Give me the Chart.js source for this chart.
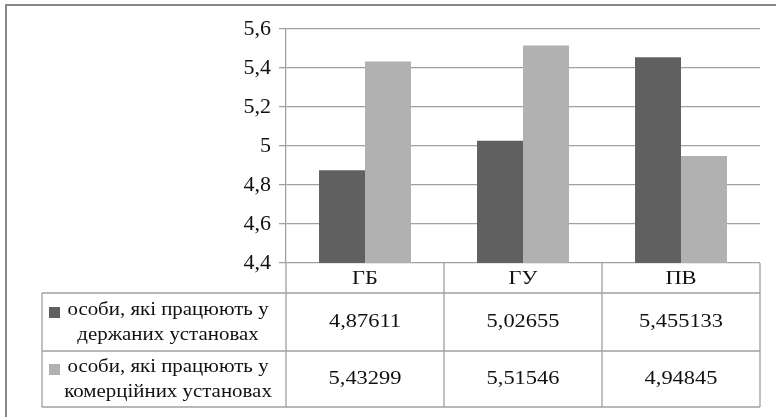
<!DOCTYPE html>
<html>
<head>
<meta charset="utf-8">
<script src="https://cdn.jsdelivr.net/npm/chart.js@4/dist/chart.umd.min.js"></script>
<style>
  html, body { margin: 0; padding: 0; background: #fff; font-family: 'Liberation Serif', serif; }
  #wrap { position: relative; width: 776px; height: 417px; overflow: hidden; }
  #frame { position: absolute; left: 5px; top: 4px; width: 800px; height: 500px;
           border-top: 2px solid #878787; border-left: 2px solid #878787; }
  canvas { position: absolute; left: 0; top: 0; }
</style>
</head>
<body>
<div id="wrap">
  <div id="frame"></div>
  <canvas id="c" width="776" height="417"></canvas>
</div>
<script>
const categories = ['ГБ', 'ГУ', 'ПВ'];
const seriesNames = [
  ['особи, які працюють у', 'держаних установах'],
  ['особи, які працюють у', 'комерційних установах']
];
const stateValues = [4.87611, 5.02655, 5.455133];
const commercialValues = [5.43299, 5.51546, 4.94845];
const stateLabels = ['4,87611', '5,02655', '5,455133'];
const commercialLabels = ['5,43299', '5,51546', '4,94845'];
const yMin = 4.4, yMax = 5.6, yStep = 0.2;

const colors = ['#606060', '#b1b1b1'];
const lineColor = '#a0a0a0';
const FONT = "'Liberation Serif'";

function stretchText(ctx, text, cx, cy, sx) {
  ctx.save();
  ctx.translate(cx, cy);
  ctx.scale(sx, 1);
  ctx.fillText(text, 0, 0);
  ctx.restore();
}

const tablePlugin = {
  id: 'dataTable',
  afterDraw(chart) {
    const ctx = chart.ctx;
    const x = chart.scales.x;
    const a = chart.chartArea;
    const n = categories.length;
    const step = (a.right - a.left) / n;
    const top = a.bottom;
    const rowH = [30, 58, 56];
    const y1 = top + rowH[0], y2 = y1 + rowH[1], y3 = y2 + rowH[2];
    const tableLeft = 42;
    ctx.save();
    ctx.strokeStyle = lineColor;
    ctx.lineWidth = 1.3;
    const line = (xa, ya, xb, yb) => { ctx.beginPath(); ctx.moveTo(xa, ya); ctx.lineTo(xb, yb); ctx.stroke(); };
    line(tableLeft, y1, a.right, y1);
    line(tableLeft, y2, a.right, y2);
    line(tableLeft, y3, a.right, y3);
    line(tableLeft, y1, tableLeft, y3);
    line(a.left, top, a.left, y3);
    for (let i = 1; i <= n; i++) {
      const xv = a.left + step * i;
      line(xv, top, xv, y3);
    }
    ctx.fillStyle = '#111';
    ctx.font = '19px ' + FONT;
    ctx.textAlign = 'center';
    ctx.textBaseline = 'middle';
    const SX = 1.18;
    for (let i = 0; i < n; i++) {
      const cx = x.getPixelForValue(i);
      stretchText(ctx, categories[i], cx, top + rowH[0] / 2 + 1, SX);
      stretchText(ctx, stateLabels[i], cx, y1 + rowH[1] / 2, SX);
      stretchText(ctx, commercialLabels[i], cx, y2 + rowH[2] / 2, SX);
    }
    const rowsY = [y1, y2];
    const rowsH = [rowH[1], rowH[2]];
    for (let r = 0; r < 2; r++) {
      const mid = rowsY[r] + rowsH[r] / 2;
      ctx.fillStyle = colors[r];
      ctx.fillRect(49, mid - 15, 11, 11);
      ctx.fillStyle = '#111';
      stretchText(ctx, seriesNames[r][0], 168, mid - 12, 1.1);
      stretchText(ctx, seriesNames[r][1], 168, mid + 13, 1.1);
    }
    ctx.restore();
  }
};

function build() {
  new Chart(document.getElementById('c'), {
    type: 'bar',
    data: {
      labels: categories,
      datasets: [
        { label: seriesNames[0].join(' '), data: stateValues, backgroundColor: colors[0],
          categoryPercentage: 0.582, barPercentage: 1.0 },
        { label: seriesNames[1].join(' '), data: commercialValues, backgroundColor: colors[1],
          categoryPercentage: 0.582, barPercentage: 1.0 }
      ]
    },
    options: {
      responsive: false,
      animation: false,
      devicePixelRatio: 1,
      layout: { padding: { left: 0, top: 29, right: 16, bottom: 154 } },
      plugins: { legend: { display: false }, tooltip: { enabled: false } },
      scales: {
        x: { display: false },
        y: {
          min: yMin, max: yMax,
          afterFit(scale) { scale.width = 286; },
          ticks: {
            stepSize: yStep,
            color: '#111',
            padding: 8,
            font: { family: FONT, size: 22 },
            callback: (v) => (Math.round(v * 10) / 10).toString().replace('.', ',')
          },
          grid: { color: lineColor, lineWidth: 1.3, tickLength: 7, drawTicks: true },
          border: { display: true, color: lineColor, width: 1.3 }
        }
      }
    },
    plugins: [tablePlugin]
  });
}

if (document.fonts && document.fonts.load) {
  document.fonts.load("20px 'Liberation Serif'", 'особи 0123456789').then(build, build);
} else {
  build();
}
</script>
</body>
</html>
